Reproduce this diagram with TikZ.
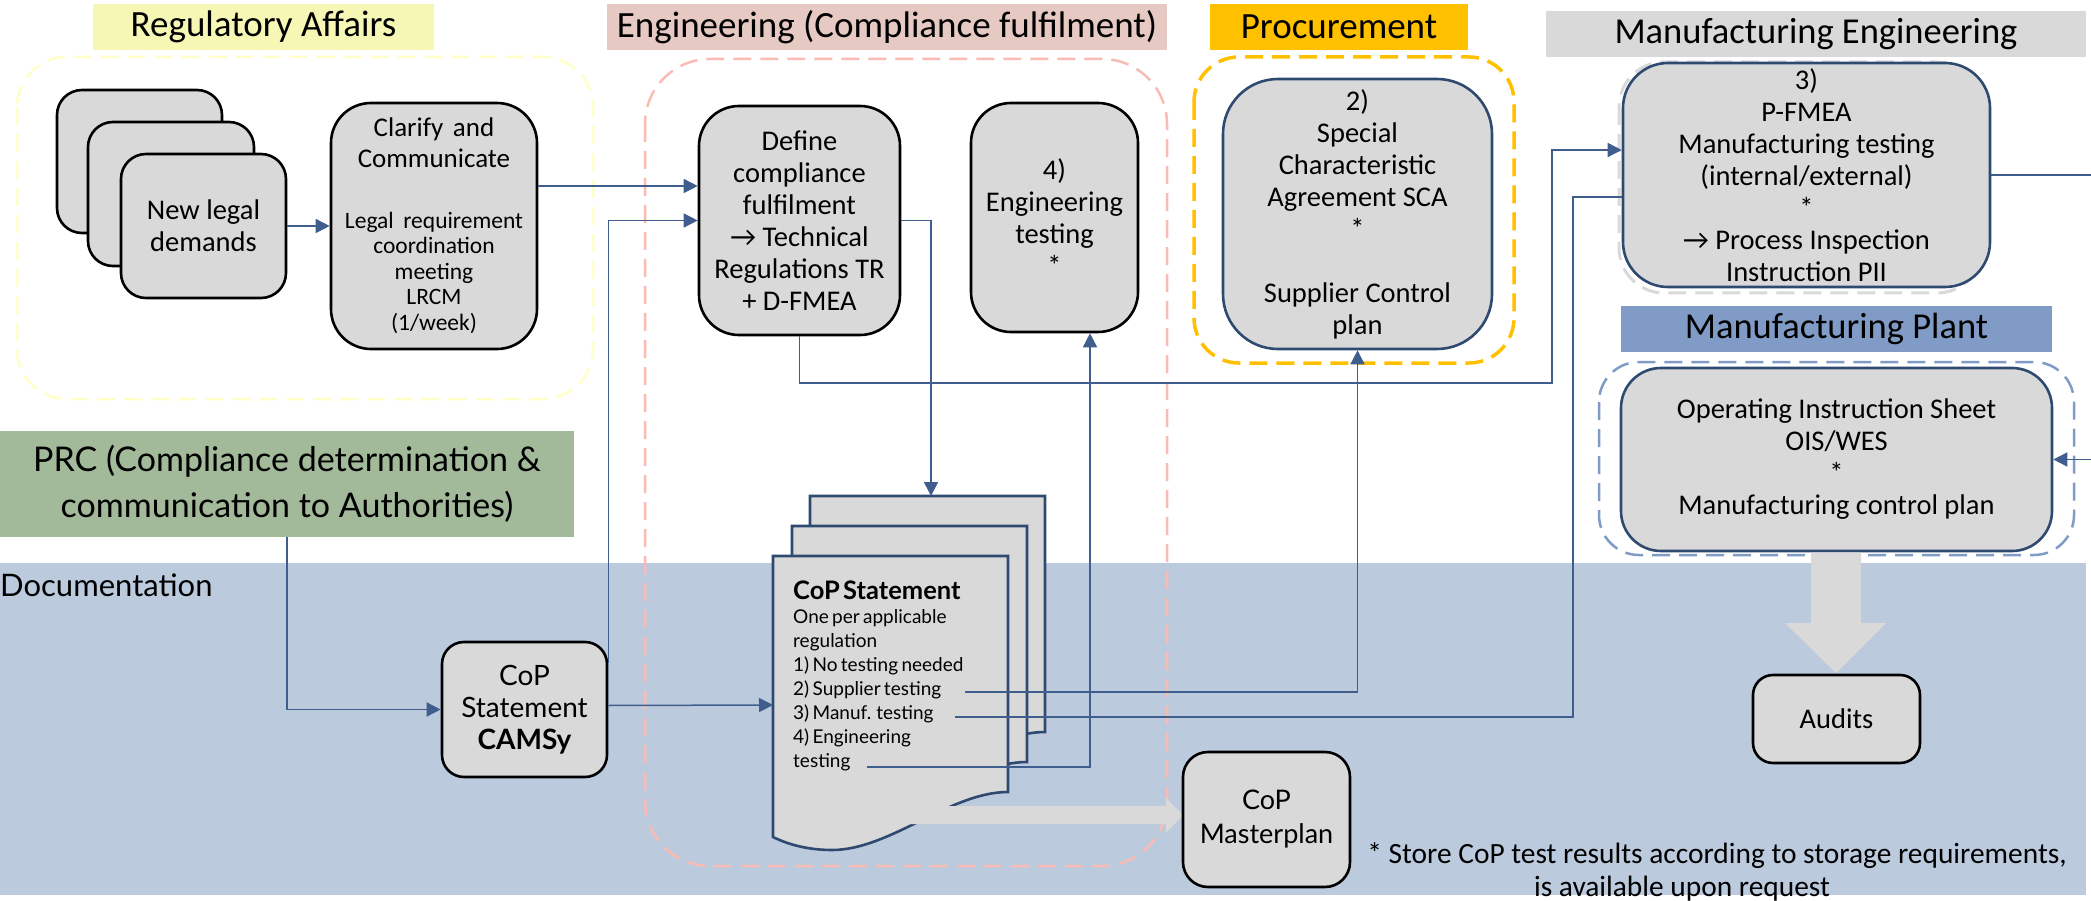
\documentclass[tikz,border=0pt]{standalone}
\usepackage{fontspec}
\setmainfont{Carlito}
\newfontfamily\geof{Lato}
\usetikzlibrary{arrows.meta}
\definecolor{boxgray}{HTML}{D9D9D9}
\definecolor{rafill}{HTML}{F6F7B5}
\definecolor{ragrp}{HTML}{FFFFC8}
\definecolor{engfill}{HTML}{E6C9C3}
\definecolor{enggrp}{HTML}{F9BBB3}
\definecolor{procc}{HTML}{FFC000}
\definecolor{mfgp}{HTML}{7F9BC6}
\definecolor{prcc}{HTML}{A2B99A}
\definecolor{docband}{HTML}{BCCADE}
\definecolor{linecol}{HTML}{3F5E8E}
\definecolor{docblue}{HTML}{2F4A70}
\begin{document}
\begin{tikzpicture}[x=1pt,y=-1pt,
  box/.style={draw=black, line width=2.6pt, fill=boxgray, rounded corners=#1, inner sep=0pt, align=center, font=\fontsize{28.5}{32}\selectfont},
  box/.default=40pt,
  bbox/.style={box=#1, draw=docblue},
  bbox/.default=40pt,
  lbl/.style={inner sep=0pt, font=\fontsize{37}{42}\selectfont},
  grp/.style={line width=#1, dash pattern=on 18pt off 9pt},
  grp/.default=2.5pt,
  con/.style={draw=linecol, line width=1.5pt},
  arr/.style={con, -{Triangle[length=14pt,width=14pt]}},
  pagestyle/.style={draw=docblue, line width=2.6pt, fill=boxgray, line join=miter},
  bigarrow/.style={fill=boxgray, draw=none}
]
\useasboundingbox (0,0) rectangle (2091,901);
\clip (0,0) rectangle (2091,901);

% documentation band
\fill[docband] (0,563) rectangle (2086,895);
\node[anchor=west, inner sep=0pt, font=\geof\fontsize{31}{34}\selectfont] (doclbl) at (0,585) {Documentation};

% heading labels
\node[lbl, fill=rafill, minimum width=341pt, minimum height=46pt] (ralbl) at (263.5,27) {Regulatory Affairs};
\node[lbl, fill=engfill, minimum width=560pt, minimum height=46pt] (englbl) at (887,27) {Engineering (Compliance fulfilment)};
\node[lbl, fill=procc, minimum width=258pt, minimum height=46pt] (proclbl) at (1339,27) {Procurement};
\node[lbl, fill=boxgray, minimum width=540pt, minimum height=46pt, font=\fontsize{36.5}{42}\selectfont] (mfgelbl) at (1816,34) {Manufacturing Engineering};
\node[lbl, fill=mfgp, minimum width=431pt, minimum height=46pt, font=\fontsize{36.5}{42}\selectfont] (mfgplbl) at (1836.5,329) {Manufacturing Plant};
\node[lbl, fill=prcc, minimum width=574pt, minimum height=106pt, align=center, font=\geof\fontsize{34}{46}\selectfont] (prc) at (287,484) {PRC (Compliance determination \&\\communication to Authorities)};

% groups
\draw[grp, ragrp, rounded corners=50pt] (17,57) rectangle (593,399);
\draw[grp, enggrp, rounded corners=65pt] (645,59) rectangle (1167,866);
\draw[grp=3.5pt, procc, rounded corners=45pt] (1194,57) rectangle (1514,363);
\draw[grp=3pt, boxgray, rounded corners=45pt] (1619,62) rectangle (1982,293);
\draw[grp, mfgp, rounded corners=40pt] (1599,362) rectangle (2074,555);

% boxes
\node[box=25pt, minimum width=165pt, minimum height=143pt] (nl3) at (139.5,161.5) {};
\node[box=25pt, minimum width=166pt, minimum height=144pt] (nl2) at (171,194) {};
\node[box=25pt, minimum width=165pt, minimum height=144pt] (nl1) at (203.5,226) {New legal\\demands};
\node[box, minimum width=206pt, minimum height=246pt, text width=200pt] (clar) at (434,226)
  {\fontsize{27}{31}\selectfont Clarify and\\Communicate\par\vspace{35pt}\fontsize{23.5}{25.5}\selectfont Legal requirement\\coordination\\meeting\\LRCM\\(1/week)\par};
\node[box, minimum width=201pt, minimum height=229pt] (def) at (799.5,220.5)
  {Define\\compliance\\fulfilment\\\textrightarrow{} Technical\\Regulations TR\\+ D-FMEA};
\node[box, minimum width=167pt, minimum height=229pt] (et) at (1054.5,217.5)
  {4)\\Engineering\\testing\\*};
\node[bbox=55pt, minimum width=269pt, minimum height=270pt] (sca) at (1357.5,214)
  {2)\\Special\\Characteristic\\Agreement SCA\\*\\[32pt]Supplier Control\\plan};
\node[bbox=45pt, minimum width=367pt, minimum height=224pt] (pf) at (1806.5,175)
  {3)\\P-FMEA\\Manufacturing testing\\(internal/external)\\*\\\textrightarrow{} Process Inspection\\Instruction PII};
\node[bbox, minimum width=431pt, minimum height=183pt] (ois) at (1836.5,459.5)
  {Operating Instruction Sheet\\OIS/WES\\*\\Manufacturing control plan};
\node[box=20pt, minimum width=167pt, minimum height=88pt] (aud) at (1836.5,719) {Audits};
\node[box=22pt, minimum width=165pt, minimum height=135pt, font=\geof\fontsize{28}{32}\selectfont] (camsy) at (524.5,709.5)
  {CoP\\Statement\\\textbf{CAMSy}};

% CoP statement document stack
\begin{scope}[shift={(37,-60)}]
\draw[pagestyle] (773,556) -- (1008,556) -- (1008,792) .. controls (950,792) and (890,850) .. (832,850) .. controls (805,850) and (785,843) .. (773,837) -- cycle;
\end{scope}
\begin{scope}[shift={(19,-30)}]
\draw[pagestyle] (773,556) -- (1008,556) -- (1008,792) .. controls (950,792) and (890,850) .. (832,850) .. controls (805,850) and (785,843) .. (773,837) -- cycle;
\end{scope}
\draw[pagestyle] (773,556) -- (1008,556) -- (1008,792) .. controls (950,792) and (890,850) .. (832,850) .. controls (805,850) and (785,843) .. (773,837) -- cycle;
\node[anchor=north west, inner sep=0pt, text width=210pt, align=left, font=\geof] (doctxt) at (793,581)
  {{\bfseries\fontsize{25.5}{26}\selectfont CoP Statement}\par
   \fontsize{19}{24}\selectfont One per applicable\\regulation\\1) No testing needed\\2) Supplier testing\\3) Manuf. testing\\4) Engineering\\testing\par};
\coordinate (doctop) at (931,496);
\coordinate (docleft) at (773,705);
\coordinate (st2) at (965,692);
\coordinate (st3) at (955,717);
\coordinate (st4) at (867,767);

% block arrow to masterplan
\fill[bigarrow] (890,806) -- (1166,806) -- (1166,798) -- (1183,815) -- (1166,833) -- (1166,824) -- (890,824) -- cycle;
\node[box=25pt, minimum width=167pt, minimum height=135pt, font=\geof\fontsize{27}{34}\selectfont] (mp) at (1266.5,819.5) {CoP\\Masterplan};

% block arrow OIS -> Audits
\fill[bigarrow] (1811,552.5) -- (1861,552.5) -- (1861,623) -- (1886,623) -- (1836,673) -- (1785,623) -- (1811,623) -- cycle;

% connectors
\draw[arr] (nl1.east) -- (clar.west);
\coordinate (c1) at ([yshift=40pt]clar.east);
\draw[arr] (c1) -- (c1 -| def.west);
\draw[arr] ([yshift=-22pt]camsy.north east) |- (def.west);
\draw[arr] (def.east) -| (doctop);
\coordinate (pfin) at ([yshift=25pt]pf.west);
\draw[arr] (def.south) |- (1552,383) |- (pfin);
\draw[arr] (st4) -| ([xshift=35.5pt]et.south);
\draw[arr] (st2) -| (sca.south);
\coordinate (pfin2) at ([yshift=-22pt]pf.west);
\draw[con] (st3) -| (1573,197) -- (pfin2);
\draw[arr] (prc.south) |- (camsy.west);
\draw[arr] ([yshift=4pt]camsy.east) -- (docleft);
\draw[arr] (pf.east) -- (2110,175) |- (ois.east);

% footnote
\node[anchor=base, inner sep=0pt, font=\fontsize{29.4}{32}\selectfont] (foot1) at (1717,863) {* Store CoP test results according to storage requirements,};
\node[anchor=base, inner sep=0pt, font=\fontsize{29.4}{32}\selectfont] (foot2) at (1682,896) {is available upon request};
\end{tikzpicture}
\end{document}
